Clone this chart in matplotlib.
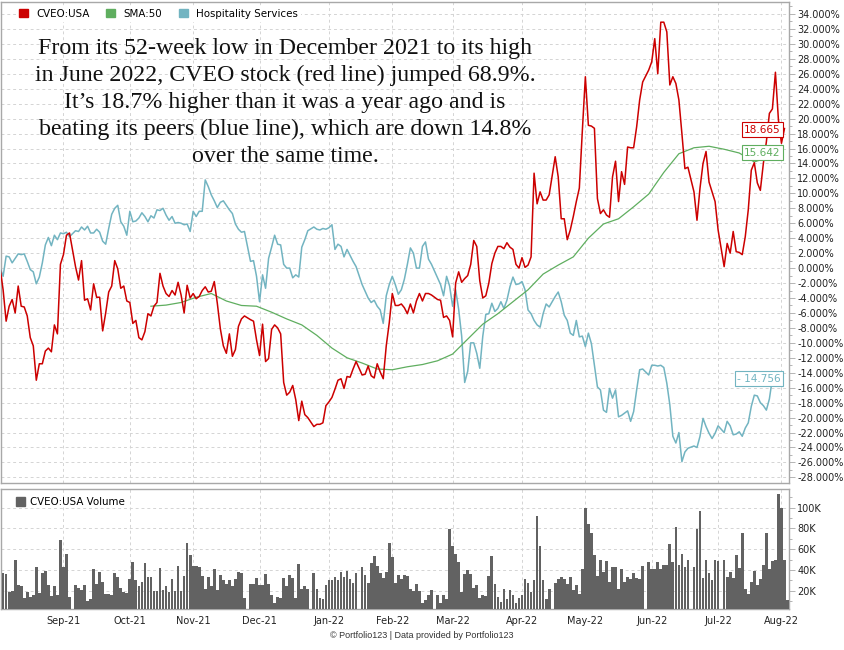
import numpy as np
import pandas as pd
import matplotlib
matplotlib.use("Agg")
import matplotlib.pyplot as plt
import matplotlib.transforms as mtransforms
from matplotlib.patches import Patch
from matplotlib.ticker import MultipleLocator, FuncFormatter

# % change since 2021-08-03, one value per weekday (None = market holiday)
cveo_pct = [
    0.0, -2.9, -7.1, -5.1, -4.2, -6.0, -2.4, -5.1, -5.2, -6.4, -9.3, -10.4, -15.0, -12.8, -12.8, -11.1,
    -10.7, -11.2, -7.6, -8.8, 0.5, 1.8, 4.4, 4.7, None,
    0.2, -1.6, 1.0, -4.3, -4.1, -5.6, -2.1, -3.9, -3.9, -8.4, -6.0, -3.2, -2.4, 1.0, -0.1,
    -2.7, -2.4, -4.4, -4.6, -7.4, -7.0, -9.3, -9.6, -8.5, -6.1, -6.4, -5.1, -4.6, -0.7,
    -2.4, -3.4, -3.8, -3.0, -3.6, -1.9, -3.6, -6.0, -2.3, -4.0, -3.4, -4.1, -3.8, -3.0, -2.5,
    -3.2, -3.1, -1.8, -4.7, -8.1, -10.4, -11.4, -8.8, -11.8, -10.9, -7.8, -6.8, -6.4, None,
    -6.9, -7.1, -9.6, -11.7, -7.5, -12.5, -12.1, -8.2, -7.6, -8.0, -8.8, -15.3, -17.0, -16.6,
    -15.7, -17.6, -20.4, -17.8, -19.6, -20.0, None,
    -21.2, -20.9, -20.9, -20.7, -18.4, -17.9, -17.3, -16.2, -15.0, -14.8, -16.1, -14.5, -14.6,
    -13.5, -12.5, None,
    -14.3, -14.2, -13.1, -14.4, -14.7, -12.8, -13.9, -14.8, -10.4, -7.3, -3.4, -5.0, -5.0, -4.8,
    -5.3, -6.1, -4.8, -6.0, -4.4, -3.4, -4.4, -3.4, -3.4, -3.6, None,
    -4.2, -4.3, -6.6, -6.4, -7.0, -9.2, -2.0, -0.5, -1.9, -1.4, -1.0, 0.5, 3.7, 2.9, -1.7, -4.0,
    -3.7, -2.0, 0.6, 2.0, 2.9, 2.9, 2.6, 3.4, 2.8, 2.5, 0.5, 0.0, 1.4, 0.1, 0.4, 1.5, 12.7, 8.6,
    10.2, 9.1, 9.1, 9.8, None,
    14.9, 12.2, 6.6, 6.6, 3.8, 5.1, 6.9, 8.9, 10.7, 18.4, 25.6, 19.1, 19.0, 18.7, 9.3, 7.3, 7.8,
    7.1, 6.8, 12.2, 14.3, 8.9, 12.9, 11.2, 16.2, 16.1, 16.1, 18.9, 22.5, 24.9, None,
    26.5, 27.6, 30.7, 26.0, 32.9, 32.9, 31.6, 24.5, 25.6, 24.7, 22.5, 18.0, 13.3, 13.5, None,
    10.2, 6.4, 10.7, 14.0, 15.6, 11.5, 10.2, 8.9, 5.1, None,
    0.2, 3.3, 2.0, 4.9, 2.2, 2.1, 1.8, 4.2, 7.8, 13.1, 14.1, 11.4, 10.4, 14.0, 16.9, 20.7, 21.3,
    26.2, 19.8, 16.7, 18.67,
]

peers_pct = [
    0.0, -1.1, 1.6, 1.5, 0.7, 1.3, 1.9, 1.8, 1.9, 0.9, -0.2, -0.5, -2.1, -1.2, 0.7, 3.1, 4.1, 3.0,
    4.4, 3.8, 4.7, 4.6, 4.8, 4.2, None,
    5.0, 4.9, 5.5, 5.1, 5.6, 4.7, 4.7, 5.2, 4.8, 3.6, 3.2, 5.3, 7.2, 8.0, 8.4, 6.2, 5.6, 4.4, 7.6,
    6.2, 6.3, 6.7, 7.4, 6.9, 6.2, 7.0, 6.7, 7.8, 7.7,
    8.0, 7.1, 6.4, 6.9, 6.0, 6.1, 6.0, 5.8, 5.9, 4.9, 7.6, 6.9, 7.6, 7.6, 11.8, 10.9, 9.8, 9.0,
    8.1, 8.8, 9.0, 8.4, 7.8, 7.3, 5.9, 5.2, 4.8, 4.9, None,
    0.9, 1.0, -1.1, -4.5, -0.9, -2.7, 1.3, 2.8, 4.4, 3.2, 3.1, 0.5, 0.0, 0.0, -1.3, -0.9, -1.2,
    2.8, 3.8, 5.0, None,
    5.5, 5.2, 5.1, 5.3, 5.2, 5.4, 5.8, 2.5, 3.2, 2.9, 1.5, 2.5, 1.7, 0.9, 0.2, None,
    -2.2, -3.1, -4.0, -4.6, -4.3, -5.1, -5.6, -7.4, -3.7, -2.2, -1.1, -2.2, -3.5, -2.9, -1.5, 0.5,
    2.7, 2.0, 0.0, 0.0, 2.9, 3.5, 1.2, 0.5, None,
    -1.3, -2.2, -3.7, -1.1, -2.4, -5.1, -2.9, -5.5, -9.1, -15.3, -13.8, -10.0, -10.0, -11.4, -13.4,
    -9.1, -6.2, -6.1, -4.7, -5.8, -5.4, -4.5, -5.4, -4.3, -2.5, -1.2, -2.2, -2.1, -1.8, -2.9, -5.6,
    -6.1, -7.0, -7.6, -7.9, -6.1, -4.8, -5.2, None,
    -3.8, -3.2, -4.5, -6.3, -7.0, -8.7, -9.0, -7.0, -9.2, -9.1, -10.5, -8.7, -10.1, -13.0, -15.9,
    -16.3, -19.0, -19.3, -16.1, -17.4, -16.3, -19.9, -19.7, -19.4, -19.1, -20.5, -19.2, -16.3,
    -13.6, -13.5, None,
    -14.3, -13.0, -13.0, -13.1, -13.0, -13.3, -15.4, -18.3, -22.5, -23.4, -22.0, -25.9, -24.6,
    -24.1, None,
    -23.8, -24.0, -22.5, -20.1, -21.2, -22.1, -22.8, -22.1, -21.1, None,
    -22.0, -20.5, -21.1, -22.3, -22.2, -21.9, -22.5, -21.4, -20.7, -18.5, -17.0, -17.1, -18.0,
    -18.4, -19.0, -17.5, -14.76,
]

# 50-day SMA of CVEO, read every 5th weekday from 2021-10-12
sma50_pct = [
    -5.1, -4.95, -4.6, -3.9, -3.4, -4.4, -5.0, -5.1, -5.9, -6.8, -7.6, -9.0, -10.7, -12.0, -12.7,
    -13.5, -13.6, -13.2, -12.9, -12.4, -11.5, -9.5, -7.5, -6.1, -4.5, -2.9, -0.8, 0.4, 1.5, 4.0,
    5.9, 6.6, 8.2, 9.9, 12.8, 15.3, 16.1, 16.3, 15.9, 15.4, 14.2, 14.9,
]

# daily volume (thousands of shares) from 2021-08-03
volume_k = [
    79, 37, 36, 19, 20, 50, 25, 24, 13, 19, 14, 16, 43, 18, 37, 39, 25, 15, 24, 16, 69, 43, 55, 14,
    None,
    25, 23, 21, 25, 10, 12, 41, 26, 38, 28, 17, 17, 16, 37, 33, 23, 19, 18, 31, 48,
    30, 24, 28, 47, 33, 33, 20, 20, 42, 21, 24, 19, 31, 20, 44, 20, 34,
    66, 54, 44, 44, 43, 34, 22, 33, 24, 41, 21, 35, 30, 26, 30, 24, 31, 38, 37, 13, None,
    26, 26, 32, 25, 25, 36, 26, 16, 8, 14, 13, 32, 24, 35, 32, 13, 46, 22, 24, 22, None,
    37, 22, 13, 12, 25, 30, 30, 33, 30, 38, 33, 39, 31, 27, 37, None,
    43, 35, 27, 47, 53, 44, 37, 32, 38, 66, 52, 27, 35, 31, 35, 34, 22, 20, 26, 20, 8, 11, 16, 21,
    None,
    16, 8, 16, 12, 79, 63, 55, 48, 19, 36, 40, 36, 23, 25, 13, 16, 15, 34, 53, 26, 14, 9, 22, 12,
    21, 16, 8, 13, 16, 31, 27, 19, 30, 92, 63, 30, 12, 22, None,
    27, 31, 33, 31, 26, 33, 21, 25, 17, 41, 100, 84, 76, 54, 34, 50, 38, 49, 28, 43, 43, 22, 41,
    28, 33, 31, 37, 32, 31, 44, None,
    48, 41, 41, 48, 41, 45, 45, 65, 48, 81, 45, 55, 43, 50, None,
    43, 79, 97, 32, 50, 37, 30, 50, 49, None,
    50, 33, 38, 32, 54, 42, 76, 22, 17, 28, 39, 25, 31, 45, 76, 41, 49, 50, 113, 100, 50, 11,
]

caption = [
    "From its 52-week low in December 2021 to its high",
    "in June 2022, CVEO stock (red line) jumped 68.9%.",
    "It\u2019s 18.7% higher than it was a year ago and is",
    "beating its peers (blue line), which are down 14.8%",
    "over the same time.",
]

RED = "#cc0000"
GREEN = "#5fae5f"
BLUE = "#72b4c1"
GRID = "#d4d4d4"
FRAME = "#a8a8a8"

ORIGIN = np.datetime64("2021-08-02")


def weekday_pos(start, n, step=1):
    dates = pd.bdate_range(start, periods=n, freq=f"{step}B")
    return np.busday_count(ORIGIN, dates.values.astype("datetime64[D]")), dates


def as_series(start, values, step=1):
    pos, _ = weekday_pos(start, len(values), step)
    return pd.Series([np.nan if v is None else v for v in values], index=pos, dtype=float)


cveo = as_series("2021-08-03", cveo_pct).dropna()
peers = as_series("2021-08-03", peers_pct).dropna()
sma = as_series("2021-10-12", sma50_pct, step=5)
vol = as_series("2021-08-03", volume_k).dropna()

# first weekday of every month -> x ticks
alldays = pd.bdate_range("2021-08-02", "2022-08-03")
firsts = alldays.to_series().groupby(alldays.to_period("M")).first().iloc[1:]
month_pos = np.busday_count(ORIGIN, firsts.values.astype("datetime64[D]"))
month_lab = [d.strftime("%b-%y") for d in firsts]

W, H = 845, 650
fig = plt.figure(figsize=(W / 100, H / 100), dpi=100)
ax = fig.add_axes([1 / W, 1 - 483 / H, 788 / W, 481 / H])
axv = fig.add_axes([1 / W, 1 - 609 / H, 788 / W, 120 / H], sharex=ax)

ax.plot(cveo.index, cveo.values, color=RED, lw=1.1, zorder=4)
ax.plot(peers.index, peers.values, color=BLUE, lw=1.1, zorder=3)
ax.plot(sma.index, sma.values, color=GREEN, lw=0.9, zorder=3)

axv.bar(vol.index, vol.values, width=0.9, color="#626262", edgecolor="none", zorder=3)

ax.set_xlim(1.3, 262.5)
ax.set_ylim(-28.75, 35.6)
axv.set_ylim(2.3, 118)

for a in (ax, axv):
    a.yaxis.tick_right()
    a.set_xticks(month_pos)
    a.grid(True, which="major", color=GRID, ls=(0, (3, 3)), lw=0.7, zorder=0)
    a.tick_params(axis="y", which="major", length=4, width=0.6, color=FRAME,
                  labelsize=7, labelcolor="#222222", pad=2)
    a.tick_params(axis="y", which="minor", length=2, width=0.6, color=FRAME)
    a.tick_params(axis="x", length=0, labelsize=7, labelcolor="#222222", pad=5)
    for s in a.spines.values():
        s.set_color(FRAME)
        s.set_linewidth(1.0)

ax.yaxis.set_major_locator(MultipleLocator(2))
ax.yaxis.set_minor_locator(MultipleLocator(1))
ax.yaxis.set_major_formatter(FuncFormatter(lambda v, p: f"{v:.3f}%"))
ax.tick_params(axis="x", labelbottom=False)

axv.yaxis.set_major_locator(MultipleLocator(20))
axv.yaxis.set_minor_locator(MultipleLocator(10))
axv.yaxis.set_major_formatter(FuncFormatter(lambda v, p: f"{v:.0f}K"))
axv.set_xticklabels(month_lab)

# legends
handles = [Patch(color=RED, label="CVEO:USA"), Patch(color=GREEN, label="SMA:50"),
           Patch(color=BLUE, label="Hospitality Services")]
ax.legend(handles=handles, loc="upper left", bbox_to_anchor=(0.012, 1.003), ncol=3,
          frameon=True, facecolor="white", edgecolor="none", framealpha=1,
          fontsize=7.4, handlelength=0.9, handleheight=0.9, handletextpad=0.8,
          columnspacing=1.6, borderpad=0.3)
axv.legend(handles=[Patch(color="#626262", label="CVEO:USA Volume")], loc="upper left",
           bbox_to_anchor=(0.008, 1.0), frameon=False, fontsize=7.4, handlelength=0.9,
           handleheight=0.9, handletextpad=0.5, borderpad=0.3)

# last-value tags
tag = mtransforms.blended_transform_factory(ax.transAxes, ax.transData)
for val, txt, col in [(18.5, "18.665", RED), (15.45, "15.642", GREEN), (-14.77, "- 14.756", BLUE)]:
    ax.text(0.9895, val, txt, transform=tag, ha="right", va="center", fontsize=7.6, color=col,
            zorder=6, bbox=dict(boxstyle="square,pad=0.22", fc="white", ec=col, lw=0.8))

# caption
for k, line in enumerate(caption):
    fig.text(285 / W, 1 - (54 + 27 * k) / H, line, ha="center", va="baseline",
             fontsize=17.2, family="Liberation Serif", color="#111111")

fig.text(422 / W, 1 - 636 / H, "\u00a9 Portfolio123 | Data provided by Portfolio123",
         ha="center", va="center", fontsize=6.5, family="Liberation Sans", color="#333333")

fig.savefig("out.png", dpi=100)
